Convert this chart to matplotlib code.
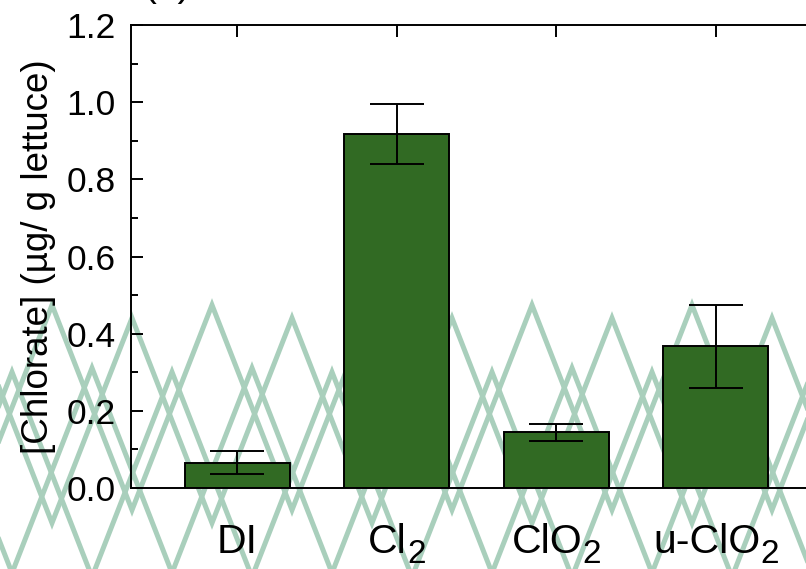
import numpy as np
import matplotlib
matplotlib.use('Agg')
from matplotlib import pyplot as plt
from matplotlib.lines import Line2D
from matplotlib import transforms

plt.rcParams['font.family'] = ['Liberation Sans', 'DejaVu Sans']

# data
groups = ['DI', 'Cl', 'ClO', 'u-ClO']
groups_sub = ['', '2', '2', '2']
chlorate = [0.066, 0.918, 0.144, 0.367]
chlorate_err = [0.030, 0.078, 0.021, 0.108]
y_ticks = [0.0, 0.2, 0.4, 0.6, 0.8, 1.0, 1.2]

W, H = 806, 569
fig = plt.figure(figsize=(W / 100, H / 100), dpi=100)

# light green zigzag pattern in the background (pixel units, y from top)
def zigzag(x0, top, period=160, amp=205):
    xs = np.arange(x0 - 2 * period, W + 2 * period, period / 2)
    k = np.round((xs - x0) / (period / 2)).astype(int)
    ys = np.where(k % 2 == 0, top, top + amp)
    return xs / W, 1 - ys / H

for x0, top in [(132, 318), (212, 305), (92, 368), (172, 372)]:
    zx, zy = zigzag(x0, top)
    fig.add_artist(Line2D(zx, zy, transform=fig.transFigure, color='#a9cfbc',
                          lw=3.6, zorder=-1, solid_joinstyle='miter'))

# axes (right side runs off the picture)
left, right, bottom, top = 131, 860, 488, 25
ax = fig.add_axes([left / W, 1 - bottom / H, (right - left) / W, (bottom - top) / H])
ax.set_facecolor('none')

x = np.arange(len(groups))
ax.bar(x, chlorate, width=0.66, color='#316a23', edgecolor='black', linewidth=1.4, zorder=2)
ax.errorbar(x, chlorate, yerr=chlorate_err, fmt='none', ecolor='black',
            elinewidth=1.4, capsize=19.5, capthick=1.4, zorder=3)

ax.set_xlim(-0.666, 3.904)
ax.set_ylim(0, 1.2)
ax.set_yticks(y_ticks)
ax.set_yticks(np.arange(0.1, 1.2, 0.2), minor=True)
ax.set_yticklabels(['%.1f' % v for v in y_ticks])
ax.set_xticks(x)
ax.set_xticklabels([])

for s in ax.spines.values():
    s.set_linewidth(1.4)
ax.tick_params(axis='both', which='both', direction='in', width=1.4)
ax.tick_params(axis='x', which='major', length=8.5, top=True, bottom=True)
ax.tick_params(axis='y', which='major', length=8.5, labelsize=25.5, pad=11)
ax.tick_params(axis='y', which='minor', length=5)

# category labels with big subscripts, centred under each bar
renderer = fig.canvas.get_renderer()
trans = transforms.blended_transform_factory(ax.transData, ax.transAxes)
yb = (bottom - 553) / (bottom - top)
for xi, g, s in zip(x, groups, groups_sub):
    t1 = ax.text(xi, yb, g, transform=trans, ha='left', va='baseline', fontsize=29.5)
    t2 = ax.text(xi, yb, s, transform=trans, ha='left', va='baseline', fontsize=24)
    w1 = t1.get_window_extent(renderer).width
    w2 = t2.get_window_extent(renderer).width if s else 0
    half = (w1 + w2) / 2
    t1.set_transform(transforms.offset_copy(trans, fig=fig, x=-half, y=0, units='dots'))
    t2.set_transform(transforms.offset_copy(trans, fig=fig, x=-half + w1, y=-10, units='dots'))

ax.set_ylabel('[Chlorate] (\u00b5g/ g lettuce)', fontsize=26.5)
ax.yaxis.set_label_coords(-0.103, 0.5)

fig.text(167 / W, 1 - 4 / H, '(a)', ha='center', va='bottom', fontsize=28)

fig.savefig('out.png', dpi=100)
